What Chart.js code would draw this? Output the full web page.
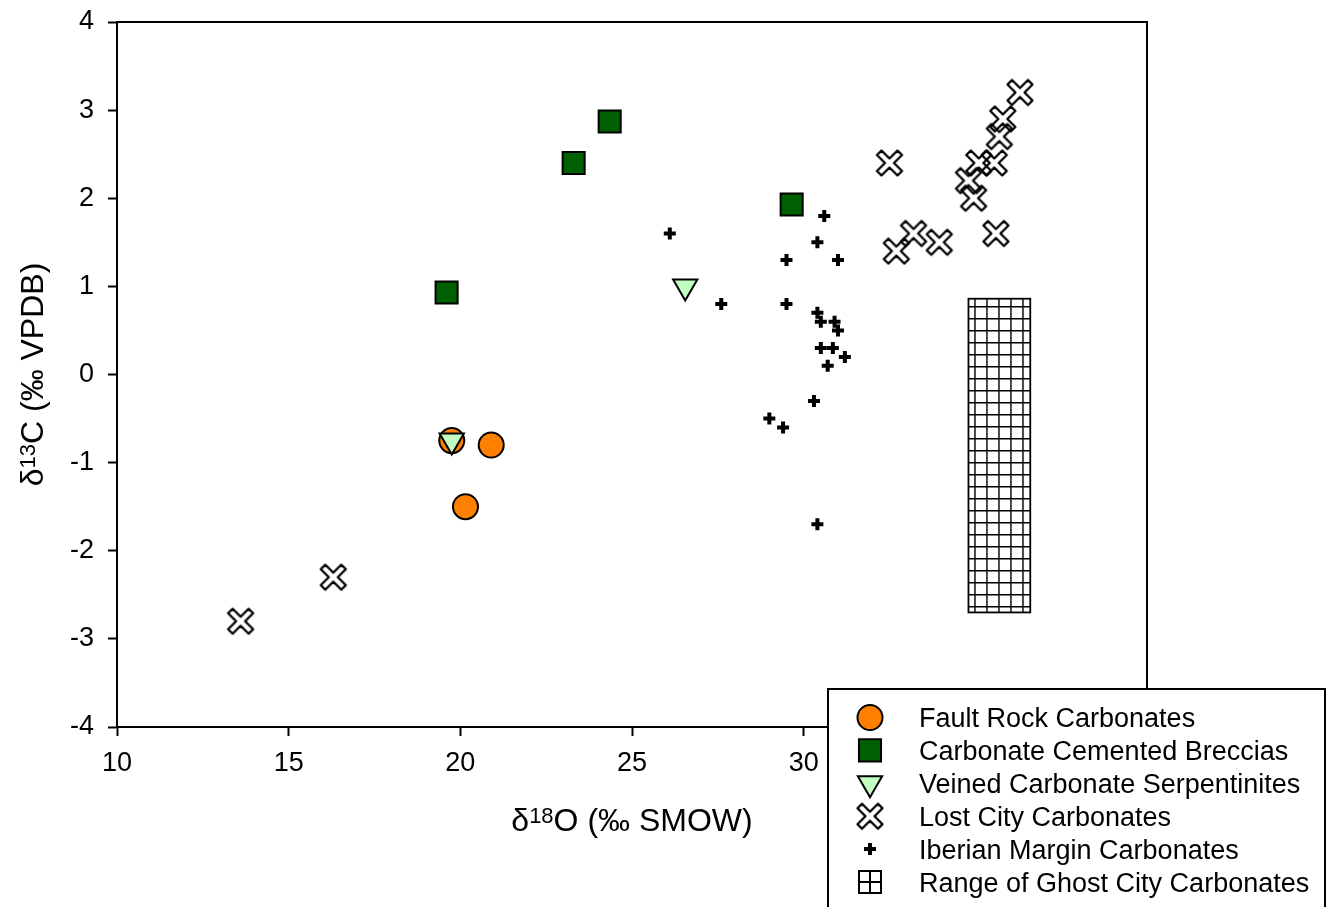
<!DOCTYPE html>
<html>
<head>
<title>Carbonate stable isotopes</title>
<script src="https://cdn.jsdelivr.net/npm/chart.js"></script>
<style>
  body { margin: 0; background: #fff; }
  #wrap { width: 1330px; height: 907px; }
</style>
</head>
<body>
<div id="wrap"><canvas id="isoChart"></canvas></div>
<script>
// d18O (permil SMOW) and d13C (permil VPDB) for each sample group
const faultRockO = [19.75, 20.9, 20.15];
const faultRockC = [-0.75, -0.8, -1.5];

const brecciaO = [19.6, 23.3, 24.35, 29.65];
const brecciaC = [0.93, 2.4, 2.87, 1.93];

const veinedO = [19.75, 26.55];
const veinedC = [-0.75, 1.0];

const lostCityO = [32.5, 36.3, 35.8, 35.7, 35.1, 35.55, 34.8, 34.95, 33.2, 32.7, 33.95, 35.6, 16.3, 13.6];
const lostCityC = [2.4, 3.2, 2.9, 2.7, 2.4, 2.4, 2.2, 2.0, 1.6, 1.4, 1.5, 1.6, -2.3, -2.8];

const iberianO = [26.1, 30.6, 30.4, 29.5, 31.0, 27.6, 29.5, 30.4, 30.5, 30.9, 31.0, 30.5, 30.85, 31.2, 30.7, 30.3, 29.0, 29.4, 30.4];
const iberianC = [1.6, 1.8, 1.5, 1.3, 1.3, 0.8, 0.8, 0.7, 0.6, 0.6, 0.5, 0.3, 0.3, 0.2, 0.1, -0.3, -0.5, -0.6, -1.7];

// Ghost City carbonates only given as a range box
const ghostRangeO = [34.8, 36.6];
const ghostRangeC = [-2.7, 0.86];

const xTicks = [10, 15, 20, 25, 30, 35, 40];
const yTicks = [-4, -3, -2, -1, 0, 1, 2, 3, 4];

const labels = [
  'Fault Rock Carbonates',
  'Carbonate Cemented Breccias',
  'Veined Carbonate Serpentinites',
  'Lost City Carbonates',
  'Iberian Margin Carbonates',
  'Range of Ghost City Carbonates'
];

const FONT = '"Liberation Sans", Arial, sans-serif';

const pts = (xs, ys) => xs.map((x, i) => ({ x: x, y: ys[i] }));

// hollow X symbol (outline only, so overlapping ones stay visible)
function makeXMark() {
  const c = document.createElement('canvas');
  c.width = 32; c.height = 32;
  const g = c.getContext('2d');
  const a = 3.2, L = 14.5;
  const shape = [[a, L], [a, a], [L, a], [L, -a], [a, -a], [a, -L], [-a, -L], [-a, -a], [-L, -a], [-L, a], [-a, a], [-a, L]];
  g.translate(16, 16);
  g.rotate(Math.PI / 4);
  g.beginPath();
  shape.forEach(([x, y], i) => i ? g.lineTo(x, y) : g.moveTo(x, y));
  g.closePath();
  g.lineWidth = 2.3;
  g.lineJoin = 'round';
  g.strokeStyle = '#000';
  g.stroke();
  return c;
}
const xMark = makeXMark();

const datasets = [{
  label: labels[0],
  data: pts(faultRockO, faultRockC),
  pointStyle: 'circle', pointRadius: 12.5,
  pointBackgroundColor: '#ff8000', pointBorderColor: '#000', pointBorderWidth: 2,
  order: 4
}, {
  label: labels[1],
  data: pts(brecciaO, brecciaC),
  pointStyle: 'rect', pointRadius: 15.6,
  pointBackgroundColor: '#005f00', pointBorderColor: '#000', pointBorderWidth: 2,
  order: 3
}, {
  label: labels[2],
  data: pts(veinedO, veinedC),
  pointStyle: 'triangle', pointRotation: 180, pointRadius: 14,
  pointBackgroundColor: '#c0ffc0', pointBorderColor: '#000', pointBorderWidth: 2,
  order: 2
}, {
  label: labels[3],
  data: pts(lostCityO, lostCityC),
  pointStyle: xMark, pointRadius: 13,
  order: 1
}, {
  label: labels[4],
  data: pts(iberianO, iberianC),
  pointStyle: 'cross', pointRadius: 6,
  pointBorderColor: '#000', pointBorderWidth: 4,
  order: 0
}];
datasets.forEach(d => {
  d.showLine = false;
  d.pointHoverRadius = d.pointRadius;
});

// range box with a fine square grid
const ghostBox = {
  id: 'ghostBox',
  beforeDatasetsDraw(chart) {
    const { ctx, scales: { x, y } } = chart;
    const l = x.getPixelForValue(ghostRangeO[0]);
    const r = x.getPixelForValue(ghostRangeO[1]);
    const t = y.getPixelForValue(ghostRangeC[1]);
    const b = y.getPixelForValue(ghostRangeC[0]);
    ctx.save();
    ctx.strokeStyle = '#000';
    ctx.lineWidth = 1.4;
    ctx.beginPath();
    for (let px = l + 6.5; px < r - 2; px += 12) { ctx.moveTo(px, t); ctx.lineTo(px, b); }
    for (let py = t + 8; py < b - 2; py += 12) { ctx.moveTo(l, py); ctx.lineTo(r, py); }
    ctx.stroke();
    ctx.lineWidth = 1.8;
    ctx.strokeRect(l, t, r - l, b - t);
    ctx.restore();
  }
};

// plot frame, axis titles with superscripts, boxed legend
const decorations = {
  id: 'decorations',
  afterDraw(chart) {
    const { ctx, chartArea: a } = chart;
    ctx.save();
    ctx.strokeStyle = '#000';
    ctx.lineWidth = 2;
    ctx.strokeRect(a.left, a.top, a.right - a.left, a.bottom - a.top);

    ctx.fillStyle = '#000';
    ctx.textBaseline = 'alphabetic';
    const big = '32px ' + FONT, small = '22px ' + FONT;
    const drawTitle = (sup, rest, cx, base) => {
      ctx.font = big;
      const w1 = ctx.measureText('\u03b4').width, w3 = ctx.measureText(rest).width;
      ctx.font = small;
      const w2 = ctx.measureText(sup).width;
      const x0 = cx - (w1 + w2 + w3) / 2;
      ctx.textAlign = 'left';
      ctx.font = big; ctx.fillText('\u03b4', x0, base);
      ctx.font = small; ctx.fillText(sup, x0 + w1, base - 8);
      ctx.font = big; ctx.fillText(rest, x0 + w1 + w2, base);
    };
    drawTitle('18', 'O (\u2030 SMOW)', (a.left + a.right) / 2, 831);
    ctx.save();
    ctx.translate(43, (a.top + a.bottom) / 2);
    ctx.rotate(-Math.PI / 2);
    drawTitle('13', 'C (\u2030 VPDB)', 0, 0);
    ctx.restore();

    // legend
    const bx = 828, by = 689;
    ctx.fillStyle = '#fff';
    ctx.fillRect(bx, by, 497, 240);
    ctx.strokeRect(bx, by, 497, 240);
    const rowY = i => 717.5 + i * 32.9;
    ctx.font = '27px ' + FONT;
    labels.forEach((txt, i) => {
      const cy = rowY(i);
      if (i < datasets.length) {
        const d = datasets[i];
        ctx.fillStyle = d.pointBackgroundColor || '#000';
        ctx.strokeStyle = d.pointBorderColor || '#000';
        ctx.lineWidth = d.pointBorderWidth || 1;
        Chart.helpers.drawPoint(ctx, {
          pointStyle: d.pointStyle, radius: d.pointRadius,
          rotation: d.pointRotation || 0, borderWidth: d.pointBorderWidth || 1
        }, 870, cy);
      } else {
        ctx.strokeStyle = '#000';
        ctx.lineWidth = 2;
        ctx.strokeRect(859, cy - 11, 22, 22);
        ctx.beginPath();
        ctx.moveTo(870, cy - 11); ctx.lineTo(870, cy + 11);
        ctx.moveTo(859, cy); ctx.lineTo(881, cy);
        ctx.stroke();
      }
      ctx.fillStyle = '#000';
      ctx.textAlign = 'left';
      ctx.fillText(txt, 919, cy + 9.5);
    });
    ctx.restore();
  }
};

const axisCommon = {
  border: { display: true, color: '#000', width: 2 },
  grid: { drawOnChartArea: false, drawTicks: true, tickLength: 9, tickColor: '#000', tickWidth: 2, color: '#000' },
  ticks: { color: '#000', font: { family: FONT, size: 27 } }
};

new Chart(document.getElementById('isoChart'), {
  type: 'scatter',
  data: { datasets: datasets },
  options: {
    responsive: true,
    maintainAspectRatio: false,
    animation: false,
    events: [],
    layout: { padding: { top: 22, right: 183, left: 0, bottom: 0 } },
    plugins: { legend: { display: false }, tooltip: { enabled: false } },
    scales: {
      x: {
        ...axisCommon,
        min: xTicks[0], max: xTicks[xTicks.length - 1],
        ticks: { ...axisCommon.ticks, padding: 11 },
        afterBuildTicks: s => { s.ticks = xTicks.map(v => ({ value: v })); },
        afterFit: s => { s.height = 180; s.paddingLeft = 0; s.paddingRight = 0; }
      },
      y: {
        ...axisCommon,
        min: yTicks[0], max: yTicks[yTicks.length - 1],
        ticks: { ...axisCommon.ticks, padding: 14 },
        afterBuildTicks: s => { s.ticks = yTicks.map(v => ({ value: v })); },
        afterFit: s => { s.width = 117; s.paddingTop = 0; s.paddingBottom = 0; }
      }
    }
  },
  plugins: [ghostBox, decorations]
});
</script>
</body>
</html>
